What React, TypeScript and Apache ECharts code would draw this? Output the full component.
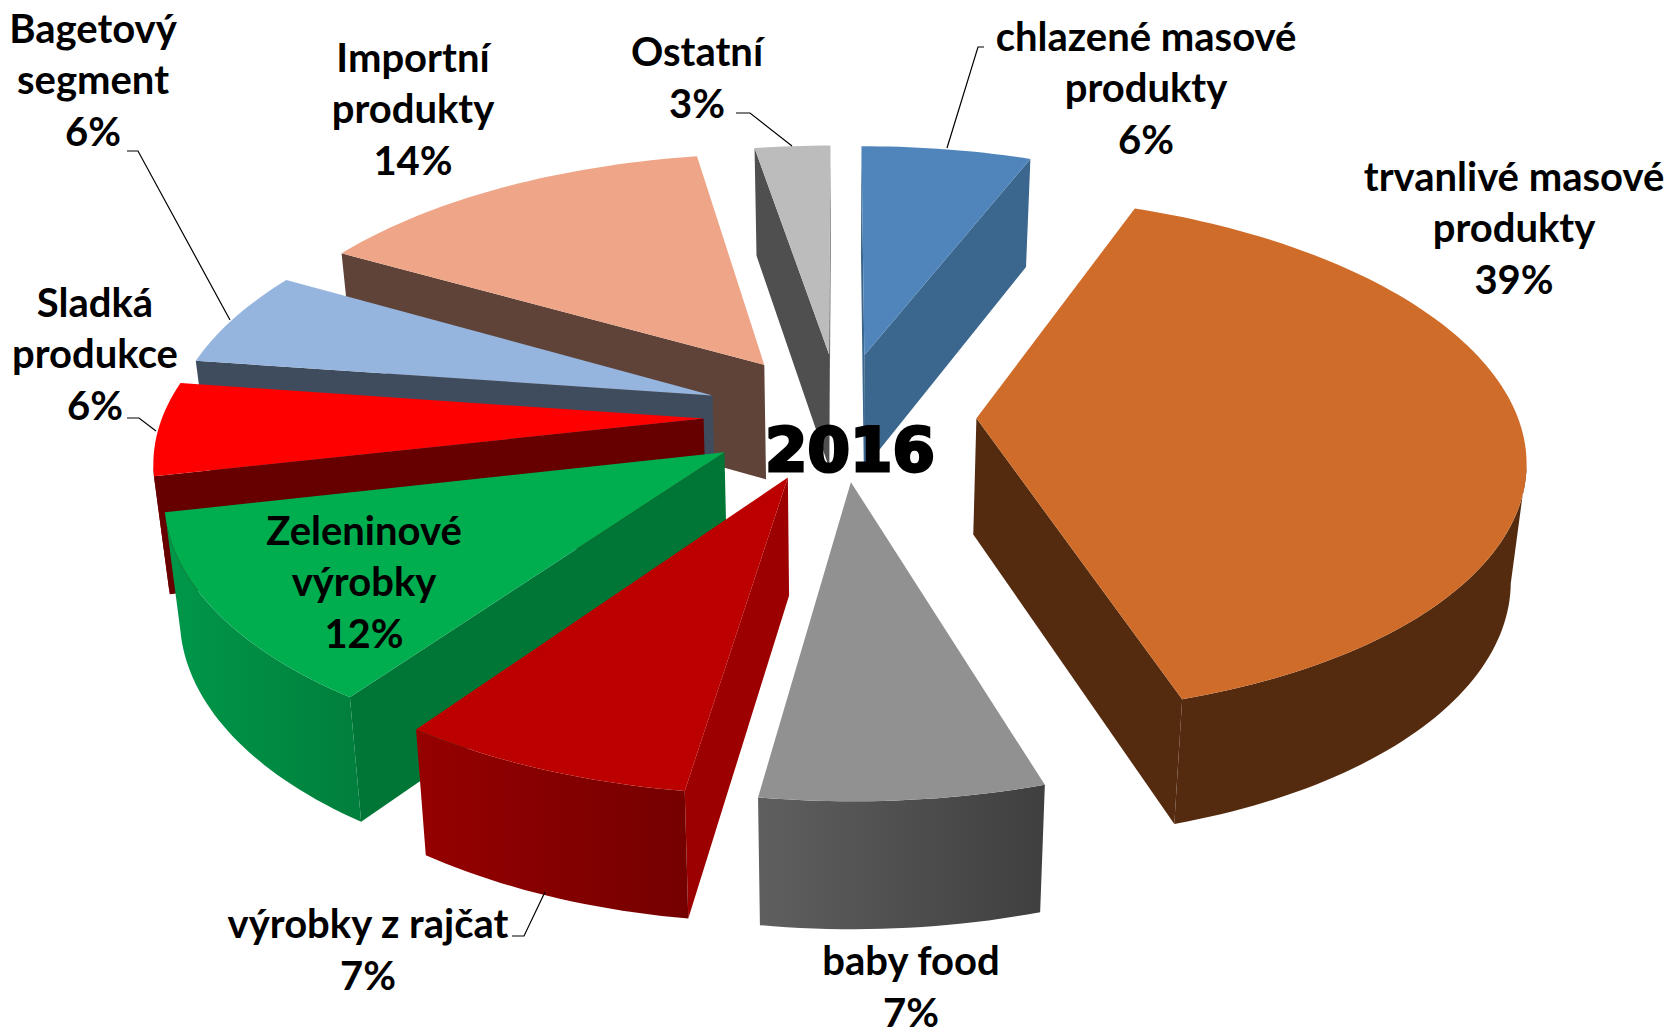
import React, { useEffect, useRef } from "react";
import * as echarts from "echarts";

// ---------- data (slice sizes estimated from the drawn angles) ----------
const categories = [
  "chlazené masové\nprodukty",
  "trvanlivé masové\nprodukty",
  "baby food",
  "výrobky z rajčat",
  "Zeleninové\nvýrobky",
  "Sladká\nprodukce",
  "Bagetový\nsegment",
  "Importní\nprodukty",
  "Ostatní",
];
const shares = [5.92, 39.31, 7.08, 7.44, 11.72, 5.8, 6.0, 14.1, 2.63];
const yearTitle = "2016";

// ---------- styles ----------
const topColors = ["#5085BB", "#D06C29", "#919191", "#BC0000", "#00AD4F", "#FF0000", "#95B5DE", "#EFA688", "#BCBCBC"];
const sideColors = ["#3B678E", "#552B10", "#4F4F4F", "#9C0000", "#007636", "#660000", "#3F4C5E", "#5F4338", "#4F4F4F"];
const rimLeft = ["#3B678E", "#552B10", "#5F5F5F", "#960000", "#00984A", "#6E0000", "#3F4C5E", "#5F4338", "#4F4F4F"];
const rimRight = ["#3B678E", "#552B10", "#3F3F3F", "#750000", "#00803C", "#6E0000", "#3F4C5E", "#5F4338", "#4F4F4F"];

// ---------- layout: a perspective view of an exploded disc ----------
const W = 1672;
const H = 1027;
const CX = 840;
const CY = 416;
const RX = 541;
const RY = 254;
const PERSPECTIVE = 0.14;
const EXPLODE = 0.252;
const START_DEG = 0;
const X_SHRINK = 0.977;
const FONT = "Lato";
const FONT_SIZE = 40;
const LINE_H = 51.5;

// label centres: [x, y of the middle of the block]
const labelAt = [
  [1146, 87], [1514, 227], [911, 986], [368, 949], [364, 581], [95, 353], [93, 79], [413, 108], [697, 77],
];
const leaders = [
  [[984, 47], [978, 47], [947, 148]],
  [[127, 151], [138, 151], [230, 320]],
  [[127, 418], [139, 418], [156, 431]],
  [[736, 113], [750, 113], [792, 146]],
  [[512, 936], [524, 936], [545, 892]],
];

type P = { x: number; y: number; s: number };
function project(X: number, Y: number): P {
  const s = 1 / (1 - PERSPECTIVE * Y);
  return { x: CX + RX * X * s, y: CY + RY * Y * s, s };
}
function below(p: P): number[] {
  return [CX + (p.x - CX) * X_SHRINK, p.y + 60 + 56 * p.s];
}
const xy = (p: P) => [p.x, p.y];

function sliceAngles() {
  const total = shares.reduce((a, b) => a + b, 0);
  const start = (START_DEG * Math.PI) / 180;
  let acc = 0;
  return shares.map((v) => {
    const a0 = start + (acc / total) * Math.PI * 2;
    acc += v;
    return [a0, start + (acc / total) * Math.PI * 2];
  });
}

function renderSlice(params: any, api: any) {
  const i = params.dataIndex;
  const [a0, a1] = sliceAngles()[i];
  const mid = (a0 + a1) / 2;
  const ox = EXPLODE * Math.sin(mid);
  const oy = -EXPLODE * Math.cos(mid);
  const tip = project(ox, oy);
  const n = Math.max(4, Math.round((api.value(0) as number) * 3));
  const arc: P[] = [];
  for (let k = 0; k <= n; k++) {
    const a = a0 + ((a1 - a0) * k) / n;
    arc.push(project(ox + Math.sin(a), oy - Math.cos(a)));
  }
  // back slices first: depth of the slice's tip sets the painting order
  const depth = Math.round((oy + 1) * 100) * 10;
  const children: any[] = [];
  const quad = (a: P, b: P, fill: any, z: number) => ({
    type: "polygon",
    z2: depth + z,
    shape: { points: [xy(a), xy(b), below(b), below(a)] },
    style: { fill },
  });
  const first = arc[0];
  const last = arc[arc.length - 1];
  if (first.x < tip.x) children.push(quad(tip, first, sideColors[i], 1));
  if (tip.x < last.x) children.push(quad(last, tip, sideColors[i], 1));
  const run = arc.filter((p, k) => (k < n && arc[k + 1].x < p.x) || (k > 0 && p.x < arc[k - 1].x));
  if (run.length > 1) {
    const xs = run.map((p) => p.x);
    const x0 = Math.min(...xs);
    const x1 = Math.max(...xs);
    const fill = new echarts.graphic.LinearGradient(
      x0, 0, x1, 0,
      [{ offset: 0, color: rimLeft[i] }, { offset: 1, color: rimRight[i] }],
      true
    );
    children.push({
      type: "polygon",
      z2: depth + 2,
      shape: { points: [...run.map(xy), ...run.slice().reverse().map(below)] },
      style: { fill },
    });
  }
  children.push({
    type: "polygon",
    z2: depth + 3,
    shape: { points: [xy(tip), ...arc.map(xy)] },
    style: { fill: topColors[i] },
  });
  return { type: "group", children };
}

export default function App() {
  const ref = useRef<HTMLDivElement>(null);
  useEffect(() => {
    const chart = echarts.init(ref.current!, undefined, { renderer: "svg" });
    const labels = categories.map((c, i) => ({
      type: "text",
      x: labelAt[i][0],
      y: labelAt[i][1],
      z: 20,
      style: {
        text: `${c}\n${Math.round(shares[i])}%`,
        fill: "#000",
        font: `bold ${FONT_SIZE}px ${FONT}`,
        lineHeight: LINE_H,
        align: "center",
        verticalAlign: "middle",
      },
    }));
    const lines = leaders.map((pts) => ({
      type: "polyline",
      z: 15,
      shape: { points: pts },
      style: { stroke: "#000", lineWidth: 1.2, fill: "none" },
    }));
    chart.setOption({
      animation: false,
      backgroundColor: "#fff",
      series: [
        {
          type: "custom",
          coordinateSystem: "none",
          renderItem: renderSlice,
          data: shares.map((v) => [v]),
          silent: true,
          z: 5,
        },
      ],
      graphic: [
        ...lines,
        ...labels,
        {
          type: "text",
          x: 850,
          y: 449,
          z: 25,
          style: {
            text: yearTitle,
            fill: "#000",
            stroke: "#000",
            lineWidth: 3,
            font: "bold 61px 'DejaVu Sans'",
            align: "center",
            verticalAlign: "middle",
          },
        },
      ],
    });
    return () => chart.dispose();
  }, []);
  return <div ref={ref} style={{ position: "absolute", left: 0, top: 0, width: W, height: H }} />;
}
